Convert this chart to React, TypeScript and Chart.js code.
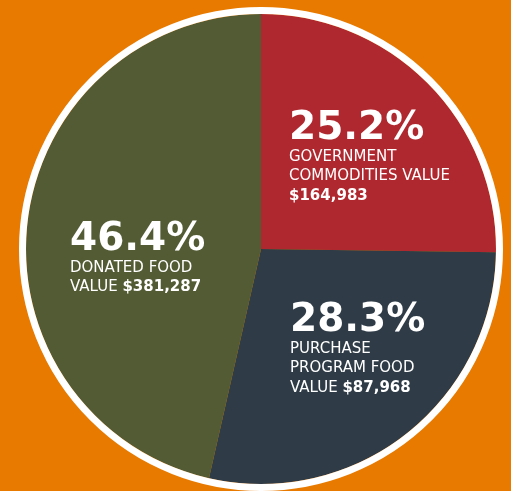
import React, { useEffect, useRef } from "react";
import { Chart, registerables } from "chart.js";

Chart.register(...registerables);

// ---- data ----
const categories = [
  "Government Commodities Value",
  "Purchase Program Food Value",
  "Donated Food Value",
];
const percentages = [25.2, 28.3, 46.4];
const dollarValues = ["$164,983", "$87,968", "$381,287"];
const labelLines = [
  ["GOVERNMENT", "COMMODITIES VALUE", ""],
  ["PURCHASE", "PROGRAM FOOD", "VALUE "],
  ["DONATED FOOD", "VALUE "],
];

// ---- styles / layout ----
const sliceColors = ["#B0282F", "#2F3C47", "#525B33"];
const background = "#E87A00";
const textAnchors = [
  { x: 289, y: 139 },
  { x: 290, y: 331 },
  { x: 70, y: 250 },
];

const FONT = '"DejaVu Sans", sans-serif';

const ringPlugin = {
  id: "ringAndText",
  afterDatasetsDraw(chart: any) {
    const ctx = chart.ctx;
    const arc = chart.getDatasetMeta(0).data[0] as any;
    if (!arc) return;
    const { x, y, outerRadius } = arc;
    ctx.save();
    ctx.beginPath();
    ctx.arc(x, y, outerRadius + 3.5, 0, Math.PI * 2);
    ctx.lineWidth = 7;
    ctx.strokeStyle = "#FFFFFF";
    ctx.stroke();
    ctx.restore();
  },
  afterDraw(chart: any) {
    const ctx = chart.ctx;
    ctx.save();
    ctx.fillStyle = "#FFFFFF";
    ctx.textBaseline = "alphabetic";
    ctx.textAlign = "left";
    percentages.forEach((p, i) => {
      const a = textAnchors[i];
      ctx.font = `bold 39px ${FONT}`;
      ctx.fillText(`${p.toFixed(1)}%`, a.x, a.y);
      const lines = labelLines[i];
      lines.forEach((line, j) => {
        const by = a.y + 21.5 + j * 19.5;
        ctx.font = `15px ${FONT}`;
        ctx.fillText(line, a.x, by);
        if (j === lines.length - 1) {
          const w = line ? ctx.measureText(line).width : 0;
          ctx.font = `bold 15px ${FONT}`;
          ctx.fillText(dollarValues[i], a.x + w, by);
        }
      });
    });
    ctx.restore();
  },
};

export default function App() {
  const ref = useRef<HTMLCanvasElement>(null);
  useEffect(() => {
    document.body.style.margin = "0";
    document.body.style.background = background;
    const chart = new Chart(ref.current!, {
      type: "pie",
      data: {
        labels: categories,
        datasets: [
          {
            data: percentages,
            backgroundColor: sliceColors,
            borderWidth: 0,
          },
        ],
      },
      options: {
        responsive: false,
        animation: false,
        layout: { padding: { left: 26, right: 15, top: 14, bottom: 7 } },
        plugins: {
          legend: { display: false },
          tooltip: { enabled: false },
        },
      },
      plugins: [ringPlugin],
    });
    return () => chart.destroy();
  }, []);
  return (
    <div
      style={{
        position: "absolute",
        left: 0,
        top: 0,
        width: 511,
        height: 491,
        background,
      }}
    >
      <canvas ref={ref} width={511} height={491} />
    </div>
  );
}
